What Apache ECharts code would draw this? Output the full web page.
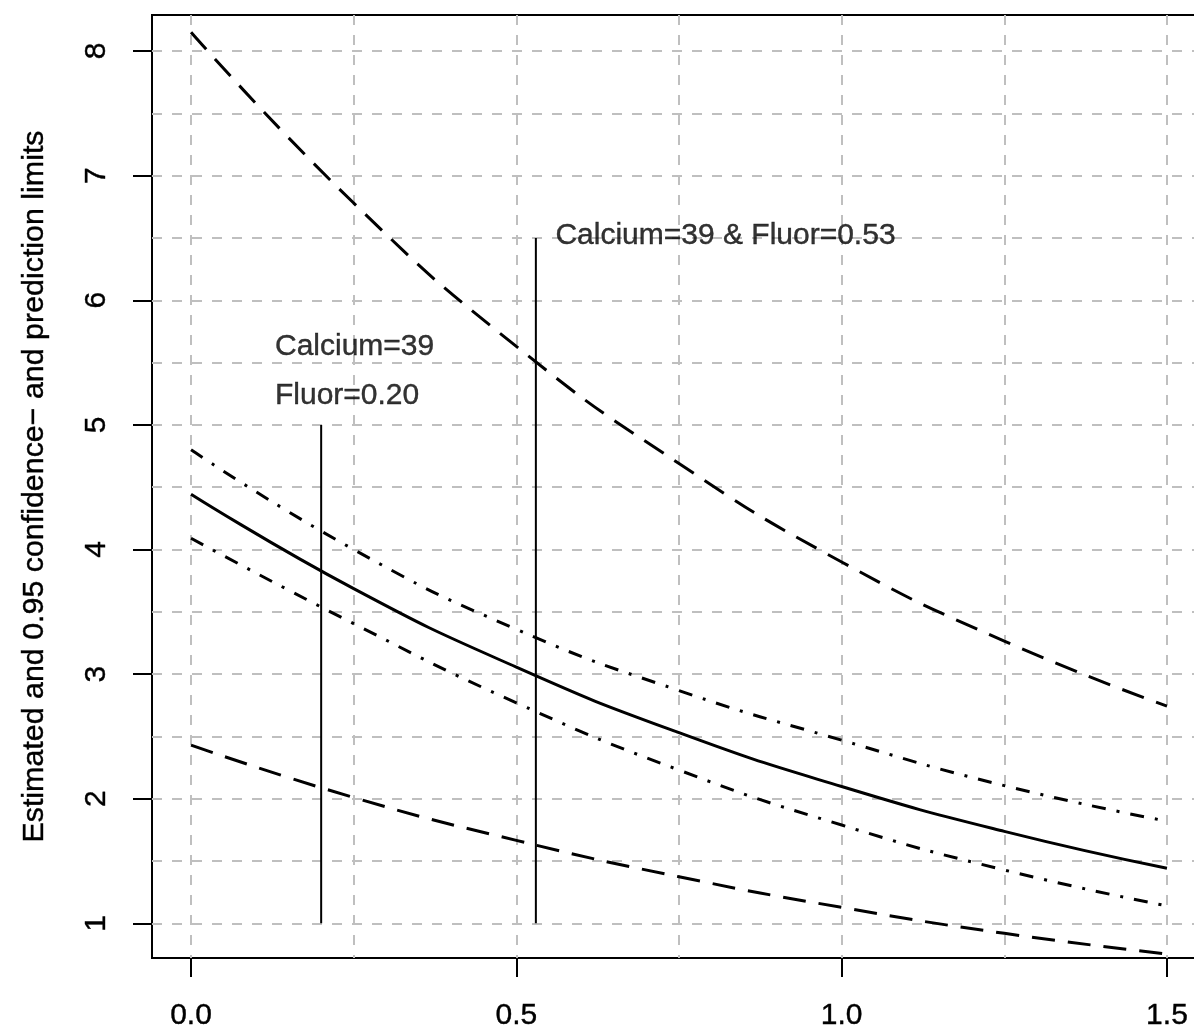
<!DOCTYPE html>
<html><head><meta charset="utf-8">
<script src="https://cdn.jsdelivr.net/npm/echarts@6/dist/echarts.min.js"></script>
<style>html,body{margin:0;padding:0;background:#fff}#c{width:1194px;height:1027px}</style>
</head><body><div id="c"></div>
<script>
// ---- data ----
const xValues         = [0, 0.25, 0.5, 0.75, 1.0, 1.25, 1.5];
const estimated       = [4.444, 3.686, 3.056, 2.53, 2.098, 1.738, 1.442];
const upperConfidence = [4.80, 4.00, 3.36, 2.868, 2.47, 2.105, 1.82];
const lowerConfidence = [4.09, 3.405, 2.77, 2.23, 1.789, 1.428, 1.14];
const upperPrediction = [8.15, 6.78, 5.63, 4.69, 3.90, 3.265, 2.743];
const lowerPrediction = [2.43, 2.01, 1.666, 1.374, 1.128, 0.92, 0.754];
const xTickLabels = [0, 0.5, 1.0, 1.5];
const yTickLabels = [1, 2, 3, 4, 5, 6, 7, 8];
const xGridValues = [0, 0.25, 0.5, 0.75, 1.0, 1.25, 1.5];
const yGridValues = [1, 1.5, 2, 2.5, 3, 3.5, 4, 4.5, 5, 5.5, 6, 6.5, 7, 7.5, 8];
const markerX    = [0.2, 0.53];
const markerFrom = [1, 1];
const markerTo   = [5, 6.5];
const noteText = ['Calcium=39', 'Fluor=0.20', 'Calcium=39 & Fluor=0.53'];
const noteX    = [0.129, 0.129, 0.56];
const noteY    = [5.63, 5.23, 6.52];
const yTitle = 'Estimated and 0.95 confidence\u2212 and prediction limits';

const FONT = "'Liberation Sans', Arial, sans-serif";
const pairs = ys => xValues.map((x, i) => [x, ys[i]]);
const XMIN = -0.06, XMAX = 1.56, YMIN = 0.722, YMAX = 8.289;

function curve(name, ys, dash) {
  return {
    type: 'line', name, data: pairs(ys), smooth: 0.5, showSymbol: false, symbol: 'none',
    xAxisIndex: 0, yAxisIndex: 0, z: 5,
    lineStyle: { color: '#000', width: 3, type: dash, cap: 'butt' }
  };
}

const textStyle = { color: '#000', fontFamily: FONT, fontSize: 30, textBorderColor: '#000', textBorderWidth: 0.4 };

const series = [
  curve('Upper prediction', upperPrediction, [23, 13]),
  curve('Upper confidence', upperConfidence, [14, 11, 3, 11]),
  curve('Estimated', estimated, 'solid'),
  curve('Lower confidence', lowerConfidence, [14, 11, 3, 11]),
  curve('Lower prediction', lowerPrediction, [23, 13])
];
markerX.forEach((x, i) => {
  series.push({
    type: 'line', data: [[x, markerFrom[i]], [x, markerTo[i]]], showSymbol: false, symbol: 'none',
    xAxisIndex: 0, yAxisIndex: 0, z: 4,
    lineStyle: { color: '#000', width: 2 }
  });
});
series.push({
  type: 'scatter', xAxisIndex: 0, yAxisIndex: 0, symbolSize: 0, z: 6,
  data: noteText.map((t, i) => ({ name: t, value: [noteX[i], noteY[i]] })),
  label: Object.assign({ show: true, position: 'right', distance: 0, formatter: '{b}',
           align: 'left', verticalAlign: 'middle' }, textStyle),
  silent: true
});

const option = {
  animation: false,
  backgroundColor: '#fff',
  grid: { left: 152, top: 15, right: -12, bottom: 69, show: true, borderColor: '#000', borderWidth: 2,
          backgroundColor: 'transparent', containLabel: false, outerBoundsMode: 'none' },
  xAxis: [
    { type: 'value', min: XMIN, max: XMAX, position: 'bottom',
      axisLine: { show: false, onZero: false },
      axisTick: { show: true, inside: false, length: 19, lineStyle: { color: '#000', width: 2 }, customValues: xTickLabels },
      axisLabel: Object.assign({ customValues: xTickLabels, margin: 43, formatter: v => Number(v).toFixed(1) }, textStyle),
      splitLine: { show: false } },
    { type: 'value', min: XMIN, max: XMAX, position: 'bottom',
      axisLine: { show: false, onZero: false }, axisLabel: { show: false },
      axisTick: { show: false, customValues: xGridValues },
      splitLine: { show: true, lineStyle: { color: '#bfbfbf', width: 2, type: [10, 10] } } }
  ],
  yAxis: [
    { type: 'value', min: YMIN, max: YMAX, position: 'left',
      name: yTitle, nameLocation: 'middle', nameRotate: 90, nameGap: 102,
      nameTextStyle: Object.assign({}, textStyle, { fontSize: 30.4 }),
      axisLine: { show: false, onZero: false },
      axisTick: { show: true, inside: false, length: 19, lineStyle: { color: '#000', width: 2 }, customValues: yTickLabels },
      axisLabel: Object.assign({ customValues: yTickLabels, margin: 40, rotate: 90, formatter: v => String(Math.round(v)) }, textStyle),
      splitLine: { show: false } },
    { type: 'value', min: YMIN, max: YMAX, position: 'left',
      axisLine: { show: false, onZero: false }, axisLabel: { show: false },
      axisTick: { show: false, customValues: yGridValues },
      splitLine: { show: true, lineStyle: { color: '#bfbfbf', width: 2, type: [10, 10] } } }
  ],
  series
};
const chart = echarts.init(document.getElementById('c'), null, { renderer: 'canvas' });
chart.setOption(option);
</script></body></html>
